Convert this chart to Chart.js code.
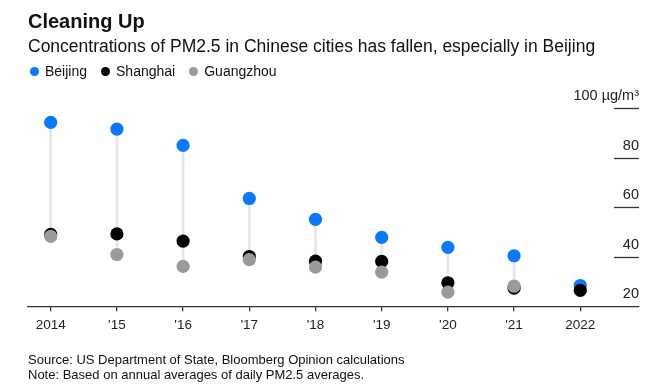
<!DOCTYPE html>
<html>
<head>
<meta charset="utf-8">
<script src="https://cdn.jsdelivr.net/npm/chart.js@4/dist/chart.umd.min.js"></script>
<style>
  html, body { margin: 0; padding: 0; background: #fff; }
  body { width: 650px; height: 392px; position: relative; overflow: hidden;
         font-family: "Liberation Sans", Arial, sans-serif; color: #111; }
  #chart { position: absolute; left: 0; top: 0; }
  .txt { position: absolute; line-height: 1; white-space: nowrap; }
  #title { left: 28px; top: 11px; font-size: 20px; font-weight: bold; }
  #subtitle { left: 28px; top: 37.5px; font-size: 17.5px; }
  #legend { position: absolute; left: 30px; top: 64px; display: flex; align-items: center;
            font-size: 14px; line-height: 14px; }
  #legend .item { display: flex; align-items: center; margin-right: 14px; }
  #legend .dot { width: 9px; height: 9px; border-radius: 50%; margin-right: 6px; }
  #source { left: 28px; top: 353px; font-size: 13px; }
  #note { left: 28px; top: 368px; font-size: 13px; }
</style>
</head>
<body>
<canvas id="chart" width="650" height="392"></canvas>
<div class="txt" id="title">Cleaning Up</div>
<div class="txt" id="subtitle">Concentrations of PM2.5 in Chinese cities has fallen, especially in Beijing</div>
<div id="legend"></div>
<div class="txt" id="source">Source: US Department of State, Bloomberg Opinion calculations</div>
<div class="txt" id="note">Note: Based on annual averages of daily PM2.5 averages.</div>

<script>
'use strict';

// Annual PM2.5 averages (µg/m³)
var years = [2014, 2015, 2016, 2017, 2018, 2019, 2020, 2021, 2022];
var yearLabels = ['2014', "'15", "'16", "'17", "'18", "'19", "'20", "'21", '2022'];
var beijing = [94.2, 91.5, 84.9, 63.5, 55.1, 47.8, 43.8, 40.4, 28.4];
var shanghai = [49.0, 49.2, 46.3, 40.1, 38.2, 38.1, 29.5, 27.3, 26.4];
var guangzhou = [48.2, 40.9, 36.1, 38.8, 35.8, 33.8, 25.7, 28.1, null];
var yTicks = [20, 40, 60, 80, 100];
var yTickLabels = ['20', '40', '60', '80', '100 µg/m³'];

var cities = [
  { name: 'Beijing', values: beijing, color: '#0a78ff' },
  { name: 'Shanghai', values: shanghai, color: '#000000' },
  { name: 'Guangzhou', values: guangzhou, color: '#9a9a9a' }
];

// legend
var legend = document.getElementById('legend');
cities.forEach(function (c) {
  var item = document.createElement('div');
  item.className = 'item';
  item.innerHTML = '<span class="dot" style="background:' + c.color + '"></span>' + c.name;
  legend.appendChild(item);
});

function toPoints(values) {
  return years.map(function (yr, i) { return { x: yr, y: values[i] }; });
}

// vertical range line from lowest to highest city each year
var ranges = years.map(function (yr, i) {
  var vals = cities.map(function (c) { return c.values[i]; }).filter(function (v) { return v !== null; });
  return { x: yr, y: [Math.min.apply(null, vals), Math.max.apply(null, vals)] };
});

// short right-hand tick lines for the value axis
var shortTicks = {
  id: 'shortTicks',
  afterDraw: function (chart) {
    var ctx = chart.ctx, area = chart.chartArea, y = chart.scales.y;
    ctx.save();
    ctx.strokeStyle = '#333';
    ctx.lineWidth = 1.3;
    y.ticks.forEach(function (t) {
      if (t.value === y.min) return;
      var py = Math.round(y.getPixelForValue(t.value)) + 0.5;
      ctx.beginPath();
      ctx.moveTo(area.right - 25, py);
      ctx.lineTo(area.right, py);
      ctx.stroke();
    });
    ctx.restore();
  }
};

Chart.defaults.font.family = '"Liberation Sans", Arial, sans-serif';
Chart.defaults.color = '#222';

var datasets = [{
  type: 'bar',
  data: ranges,
  backgroundColor: '#e6e6e6',
  borderWidth: 0,
  barThickness: 2,
  order: 4
}];
cities.forEach(function (c, i) {
  datasets.push({
    type: 'scatter',
    label: c.name,
    data: toPoints(c.values),
    backgroundColor: c.color,
    borderColor: c.color,
    borderWidth: 0,
    pointRadius: 6.6,
    order: 3 - i
  });
});

new Chart(document.getElementById('chart'), {
  type: 'scatter',
  data: { datasets: datasets },
  options: {
    responsive: false,
    animation: false,
    devicePixelRatio: 1,
    events: [],
    layout: { padding: { left: 28, right: 11, top: 108, bottom: 52.5 } },
    plugins: { legend: { display: false }, tooltip: { enabled: false } },
    scales: {
      x: {
        type: 'linear',
        min: 2013.657,
        max: 2022.887,
        offset: false,
        afterBuildTicks: function (axis) {
          axis.ticks = years.map(function (v) { return { value: v }; });
        },
        ticks: {
          padding: 6,
          font: { size: 13.5 },
          color: '#222',
          maxRotation: 0,
          autoSkip: false,
          callback: function (v) { return yearLabels[years.indexOf(v)]; }
        },
        grid: { offset: false, drawOnChartArea: false, drawTicks: true, tickLength: 5, color: '#333', lineWidth: 1.3 },
        border: { display: true, color: '#333', width: 1.3 }
      },
      y: {
        type: 'linear',
        position: 'right',
        min: 20,
        max: 100,
        beginAtZero: false,
        afterBuildTicks: function (axis) {
          axis.ticks = yTicks.map(function (v) { return { value: v }; });
        },
        ticks: {
          mirror: true,
          padding: 0,
          labelOffset: -12,
          font: { size: 14.5 },
          color: '#222',
          callback: function (v) { return yTickLabels[yTicks.indexOf(v)]; }
        },
        grid: { display: false, drawTicks: false },
        border: { display: false }
      }
    }
  },
  plugins: [shortTicks]
});
</script>
</body>
</html>
